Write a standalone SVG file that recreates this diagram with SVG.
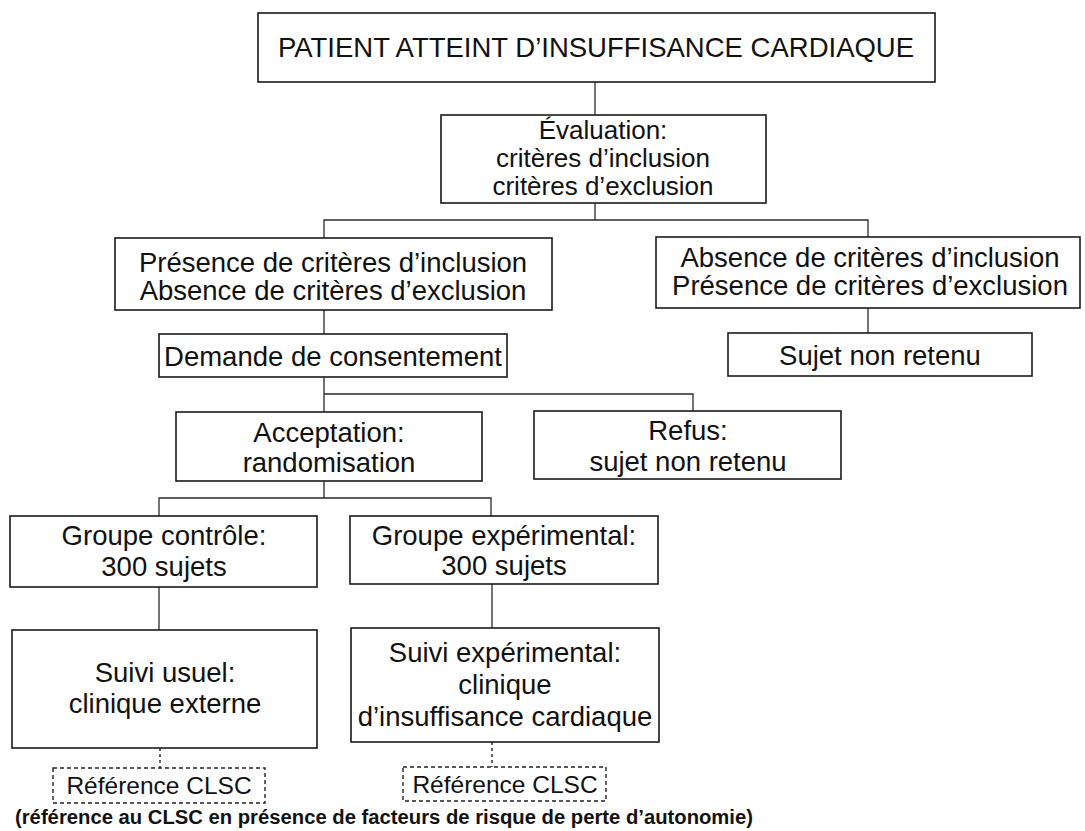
<svg xmlns="http://www.w3.org/2000/svg" width="1085" height="831" viewBox="0 0 1085 831">
  <style>
    .box { fill: #ffffff; stroke: #1a1a1a; stroke-width: 1.6; }
    .ref { fill: #ffffff; stroke: #222222; stroke-width: 1.4; stroke-dasharray: 4 3; }
    .conn { fill: none; stroke: #2a2a2a; stroke-width: 1.3; }
    .dot { fill: none; stroke: #222222; stroke-width: 1.4; stroke-dasharray: 3 3; }
    .t { font-family: "Liberation Sans", Arial, Helvetica, sans-serif; font-size: 27.5px; fill: #111111; text-anchor: middle; }
    .e { font-size: 26px; }
    .s { font-family: "Liberation Sans", Arial, Helvetica, sans-serif; font-size: 24.5px; fill: #111111; text-anchor: middle; }
    .note { font-family: "Liberation Sans", Arial, Helvetica, sans-serif; font-size: 20px; font-weight: bold; fill: #111111; }
  </style>
  <rect width="1085" height="831" fill="#ffffff"/>

  <!-- connectors -->
  <g id="connectors">
    <path class="conn" d="M595,82 V115"/>
    <path class="conn" d="M595,203 V220 M324,238 V220 H868 V237"/>
    <path class="conn" d="M324,310 V334"/>
    <path class="conn" d="M868,308 V333"/>
    <path class="conn" d="M324,377 V412 M324,394 H693 V411"/>
    <path class="conn" d="M324,481 V498 M159,516 V498 H491 V516"/>
    <path class="conn" d="M159,587 V630"/>
    <path class="conn" d="M492,584 V628"/>
    <path class="dot" d="M160,748 V768"/>
    <path class="dot" d="M492,742 V767"/>
  </g>

  <g id="patient">
    <rect class="box" x="258" y="13" width="677" height="69"/>
    <text class="t" x="596" y="57">PATIENT ATTEINT D’INSUFFISANCE CARDIAQUE</text>
  </g>

  <g id="evaluation">
    <rect class="box" x="441" y="115" width="325" height="88"/>
    <text class="t e" x="603" y="139">Évaluation:</text>
    <text class="t e" x="603" y="167">critères d’inclusion</text>
    <text class="t e" x="603" y="195">critères d’exclusion</text>
  </g>

  <g id="eligible">
    <rect class="box" x="115" y="238" width="437" height="72"/>
    <text class="t" x="333" y="272">Présence de critères d’inclusion</text>
    <text class="t" x="333" y="300">Absence de critères d’exclusion</text>
  </g>

  <g id="not-eligible">
    <rect class="box" x="656" y="237" width="424" height="71"/>
    <text class="t" x="870" y="267">Absence de critères d’inclusion</text>
    <text class="t" x="870" y="295">Présence de critères d’exclusion</text>
  </g>

  <g id="consent">
    <rect class="box" x="159" y="334" width="348" height="43"/>
    <text class="t" x="333" y="366">Demande de consentement</text>
  </g>

  <g id="excluded">
    <rect class="box" x="728" y="333" width="304" height="43"/>
    <text class="t" x="880" y="365">Sujet non retenu</text>
  </g>

  <g id="acceptance">
    <rect class="box" x="176" y="412" width="306" height="69"/>
    <text class="t" x="329" y="442">Acceptation:</text>
    <text class="t" x="329" y="472">randomisation</text>
  </g>

  <g id="refusal">
    <rect class="box" x="534" y="411" width="307" height="68"/>
    <text class="t" x="688" y="440">Refus:</text>
    <text class="t" x="688" y="471">sujet non retenu</text>
  </g>

  <g id="control-group">
    <rect class="box" x="10" y="516" width="307" height="71"/>
    <text class="t" x="164" y="545">Groupe contrôle:</text>
    <text class="t" x="164" y="576">300 sujets</text>
  </g>

  <g id="experimental-group">
    <rect class="box" x="350" y="516" width="308" height="68"/>
    <text class="t" x="504" y="545">Groupe expérimental:</text>
    <text class="t" x="504" y="575">300 sujets</text>
  </g>

  <g id="usual-care">
    <rect class="box" x="12" y="630" width="305" height="118"/>
    <text class="t" x="165" y="682">Suivi usuel:</text>
    <text class="t" x="165" y="713">clinique externe</text>
  </g>

  <g id="experimental-care">
    <rect class="box" x="351" y="628" width="308" height="114"/>
    <text class="t" x="505" y="662">Suivi expérimental:</text>
    <text class="t" x="505" y="694">clinique</text>
    <text class="t" x="505" y="726">d’insuffisance cardiaque</text>
  </g>

  <g id="clsc-control">
    <rect class="ref" x="53" y="768" width="212" height="35"/>
    <text class="s" x="159" y="794">Référence CLSC</text>
  </g>

  <g id="clsc-experimental">
    <rect class="ref" x="403" y="767" width="203" height="34"/>
    <text class="s" x="505" y="793">Référence CLSC</text>
  </g>

  <text class="note" x="15" y="824" textLength="738" lengthAdjust="spacingAndGlyphs">(référence au CLSC en présence de facteurs de risque de perte d’autonomie)</text>
</svg>
